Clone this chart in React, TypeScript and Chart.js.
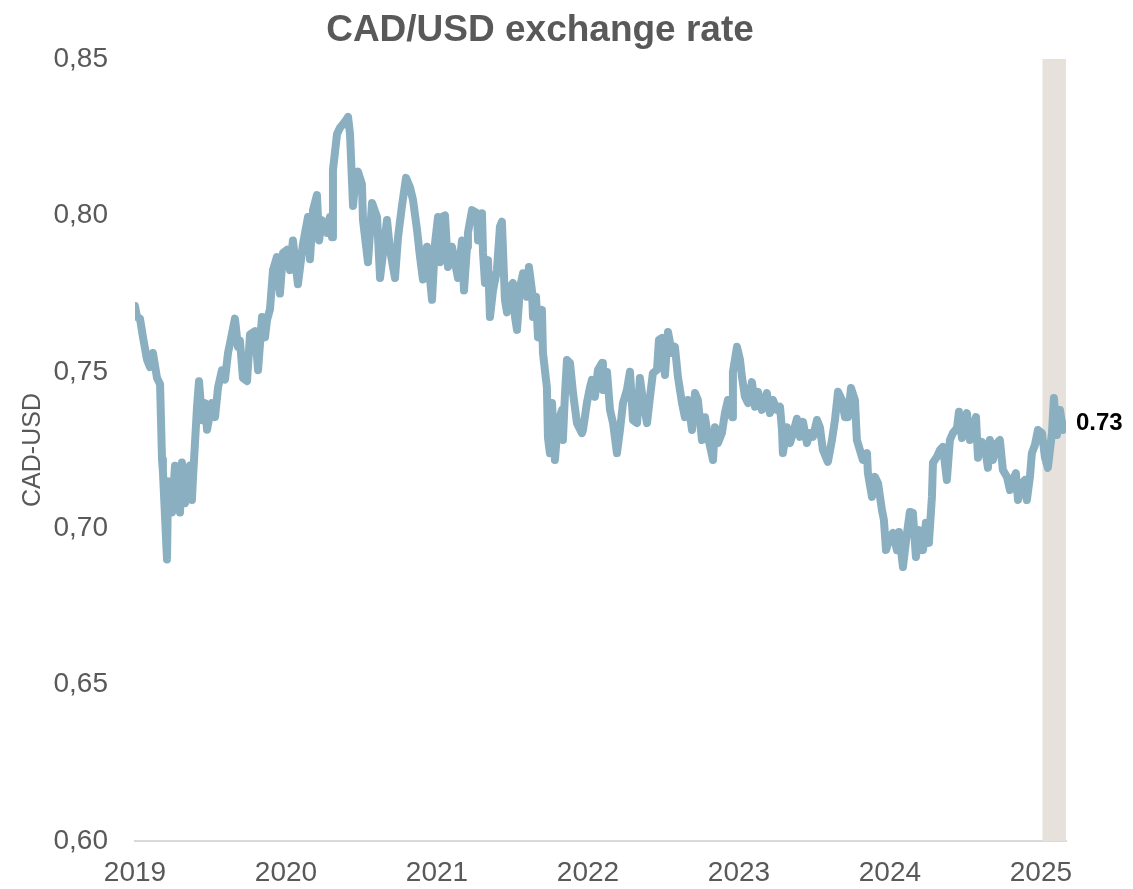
import React, { useEffect, useRef } from "react";
import { Chart, registerables } from "chart.js";

Chart.register(...registerables);

const chartTitle = "CAD/USD exchange rate";
const yAxisTitle = "CAD-USD";
const endLabel = "0.73";
const yearTicks = [2019, 2020, 2021, 2022, 2023, 2024, 2025];
const yMin = 0.6;
const yMax = 0.85;
const yStep = 0.05;
const shadedRange = [2025.01, 2025.166];

// fractional year of each observation
const dates = [
  2019.000, 2019.013, 2019.033, 2019.053, 2019.079, 2019.099, 2019.119, 2019.146, 2019.166, 2019.179,
  2019.185, 2019.212, 2019.219, 2019.245, 2019.265, 2019.298, 2019.311, 2019.331, 2019.364, 2019.377,
  2019.384, 2019.397, 2019.411, 2019.424, 2019.444, 2019.464, 2019.477, 2019.510, 2019.530, 2019.550,
  2019.576, 2019.596, 2019.616, 2019.629, 2019.662, 2019.682, 2019.695, 2019.715, 2019.742, 2019.762,
  2019.795, 2019.815, 2019.841, 2019.861, 2019.874, 2019.894, 2019.914, 2019.940, 2019.960, 2019.980,
  2020.007, 2020.026, 2020.046, 2020.079, 2020.113, 2020.146, 2020.159, 2020.179, 2020.205, 2020.219,
  2020.238, 2020.272, 2020.291, 2020.305, 2020.311, 2020.338, 2020.358, 2020.391, 2020.411, 2020.424,
  2020.444, 2020.457, 2020.477, 2020.503, 2020.510, 2020.543, 2020.570, 2020.603, 2020.623, 2020.669,
  2020.689, 2020.722, 2020.742, 2020.768, 2020.795, 2020.821, 2020.841, 2020.868, 2020.887, 2020.907,
  2020.934, 2020.967, 2020.987, 2021.007, 2021.020, 2021.033, 2021.053, 2021.073, 2021.099, 2021.119,
  2021.139, 2021.166, 2021.179, 2021.199, 2021.205, 2021.232, 2021.265, 2021.272, 2021.298, 2021.305,
  2021.318, 2021.338, 2021.351, 2021.371, 2021.397, 2021.417, 2021.430, 2021.450, 2021.464, 2021.483,
  2021.503, 2021.517, 2021.530, 2021.550, 2021.570, 2021.596, 2021.609, 2021.629, 2021.636, 2021.656,
  2021.669, 2021.695, 2021.702, 2021.728, 2021.735, 2021.748, 2021.762, 2021.781, 2021.801, 2021.828,
  2021.834, 2021.848, 2021.861, 2021.881, 2021.901, 2021.927, 2021.960, 2021.967, 2021.993, 2022.013,
  2022.026, 2022.046, 2022.066, 2022.093, 2022.099, 2022.126, 2022.146, 2022.166, 2022.192, 2022.212,
  2022.232, 2022.258, 2022.278, 2022.298, 2022.325, 2022.344, 2022.364, 2022.391, 2022.411, 2022.430,
  2022.457, 2022.470, 2022.490, 2022.510, 2022.530, 2022.556, 2022.576, 2022.596, 2022.623, 2022.642,
  2022.662, 2022.689, 2022.709, 2022.728, 2022.755, 2022.775, 2022.795, 2022.828, 2022.841, 2022.861,
  2022.887, 2022.907, 2022.927, 2022.954, 2022.960, 2022.987, 2023.007, 2023.020, 2023.040, 2023.060,
  2023.086, 2023.106, 2023.126, 2023.152, 2023.185, 2023.205, 2023.225, 2023.252, 2023.272, 2023.285,
  2023.291, 2023.318, 2023.338, 2023.358, 2023.384, 2023.404, 2023.424, 2023.450, 2023.470, 2023.490,
  2023.517, 2023.536, 2023.556, 2023.589, 2023.616, 2023.636, 2023.656, 2023.682, 2023.702, 2023.722,
  2023.742, 2023.768, 2023.781, 2023.801, 2023.821, 2023.848, 2023.854, 2023.881, 2023.901, 2023.921,
  2023.947, 2023.960, 2023.974, 2024.000, 2024.020, 2024.046, 2024.060, 2024.086, 2024.113, 2024.132,
  2024.152, 2024.172, 2024.192, 2024.219, 2024.238, 2024.258, 2024.278, 2024.285, 2024.311, 2024.331,
  2024.351, 2024.377, 2024.397, 2024.417, 2024.444, 2024.457, 2024.477, 2024.497, 2024.510, 2024.530,
  2024.550, 2024.570, 2024.583, 2024.609, 2024.629, 2024.649, 2024.662, 2024.682, 2024.709, 2024.728,
  2024.748, 2024.775, 2024.795, 2024.815, 2024.834, 2024.848, 2024.874, 2024.894, 2024.907, 2024.927,
  2024.940, 2024.960, 2024.980, 2025.007, 2025.026, 2025.046, 2025.073, 2025.086, 2025.106, 2025.126,
  2025.146, 2025.166,
];

// CAD in USD
const rates = [
  0.7710, 0.7675, 0.7670, 0.7610, 0.7540, 0.7515, 0.7560, 0.7480, 0.7460, 0.7220,
  0.7180, 0.6900, 0.7150, 0.7050, 0.7200, 0.7050, 0.7210, 0.7080, 0.7200, 0.7090,
  0.7160, 0.7270, 0.7390, 0.7470, 0.7345, 0.7400, 0.7315, 0.7400, 0.7355, 0.7450,
  0.7505, 0.7475, 0.7560, 0.7590, 0.7670, 0.7580, 0.7600, 0.7480, 0.7470, 0.7620,
  0.7630, 0.7505, 0.7675, 0.7610, 0.7665, 0.7700, 0.7825, 0.7867, 0.7750, 0.7880,
  0.7890, 0.7825, 0.7920, 0.7780, 0.7910, 0.7995, 0.7860, 0.8017, 0.8065, 0.7920,
  0.7985, 0.7944, 0.7995, 0.7930, 0.8145, 0.8260, 0.8280, 0.8300, 0.8315, 0.8260,
  0.8030, 0.8100, 0.8140, 0.8100, 0.7985, 0.7850, 0.8040, 0.7995, 0.7800, 0.7985,
  0.7890, 0.7800, 0.7930, 0.8030, 0.8120, 0.8090, 0.8050, 0.7953, 0.7870, 0.7795,
  0.7900, 0.7730, 0.7910, 0.7995, 0.7850, 0.7995, 0.8000, 0.7835, 0.7900, 0.7850,
  0.7800, 0.7920, 0.7760, 0.7900, 0.7944, 0.8017, 0.8007, 0.7920, 0.8007, 0.7880,
  0.7784, 0.7857, 0.7675, 0.7760, 0.7825, 0.7964, 0.7980, 0.7730, 0.7690, 0.7770,
  0.7784, 0.7675, 0.7634, 0.7770, 0.7815, 0.7740, 0.7835, 0.7760, 0.7675, 0.7740,
  0.7610, 0.7698, 0.7560, 0.7450, 0.7290, 0.7240, 0.7400, 0.7218, 0.7336, 0.7378,
  0.7282, 0.7432, 0.7538, 0.7528, 0.7432, 0.7336, 0.7304, 0.7314, 0.7400, 0.7450,
  0.7474, 0.7420, 0.7506, 0.7528, 0.7442, 0.7500, 0.7378, 0.7336, 0.7240, 0.7314,
  0.7400, 0.7442, 0.7500, 0.7346, 0.7336, 0.7480, 0.7410, 0.7336, 0.7420, 0.7496,
  0.7506, 0.7602, 0.7608, 0.7490, 0.7627, 0.7560, 0.7580, 0.7483, 0.7400, 0.7355,
  0.7410, 0.7314, 0.7432, 0.7410, 0.7282, 0.7355, 0.7292, 0.7218, 0.7323, 0.7272,
  0.7304, 0.7368, 0.7410, 0.7355, 0.7500, 0.7580, 0.7538, 0.7483, 0.7420, 0.7400,
  0.7467, 0.7388, 0.7436, 0.7378, 0.7432, 0.7368, 0.7410, 0.7378, 0.7388, 0.7314,
  0.7240, 0.7323, 0.7272, 0.7304, 0.7350, 0.7292, 0.7340, 0.7272, 0.7304, 0.7292,
  0.7346, 0.7323, 0.7250, 0.7212, 0.7282, 0.7346, 0.7436, 0.7410, 0.7355, 0.7355,
  0.7448, 0.7410, 0.7282, 0.7250, 0.7218, 0.7240, 0.7176, 0.7100, 0.7164, 0.7144,
  0.7058, 0.7026, 0.6930, 0.6972, 0.6985, 0.6930, 0.6988, 0.6876, 0.6985, 0.7052,
  0.7049, 0.6908, 0.6994, 0.6930, 0.7017, 0.6953, 0.7100, 0.7209, 0.7228, 0.7250,
  0.7260, 0.7154, 0.7282, 0.7304, 0.7320, 0.7372, 0.7288, 0.7336, 0.7368, 0.7282,
  0.7314, 0.7355, 0.7225, 0.7276, 0.7260, 0.7193, 0.7282, 0.7218, 0.7272, 0.7282,
  0.7186, 0.7164, 0.7122, 0.7154, 0.7176, 0.7090, 0.7144, 0.7154, 0.7090, 0.7164,
  0.7240, 0.7266, 0.7314, 0.7304, 0.7228, 0.7193, 0.7304, 0.7416, 0.7298, 0.7378,
  0.7314, 0.7330,
];

const FONT = '"Liberation Sans", Arial, Helvetica, sans-serif';
const TEXT_GREY = "#595959";
const LINE_COLOR = "#8aafc0";
const BAND_COLOR = "#e6e1db";

const decorPlugin = {
  id: "decor",
  beforeDatasetsDraw(chart: any) {
    const { ctx, chartArea, scales } = chart;
    const x0 = scales.x.getPixelForValue(shadedRange[0]);
    const x1 = scales.x.getPixelForValue(shadedRange[1]);
    ctx.save();
    ctx.fillStyle = BAND_COLOR;
    ctx.fillRect(x0, chartArea.top, x1 - x0, chartArea.bottom - chartArea.top);
    ctx.restore();
  },
  afterDatasetsDraw(chart: any) {
    const { ctx, chartArea, scales } = chart;
    ctx.save();
    ctx.fillStyle = TEXT_GREY;
    ctx.font = `bold 37px ${FONT}`;
    ctx.textAlign = "center";
    ctx.textBaseline = "middle";
    ctx.fillText(chartTitle, 540, 31);
    const lastVal = rates[rates.length - 1];
    const yPix = scales.y.getPixelForValue(lastVal);
    ctx.fillStyle = "#000000";
    ctx.font = `bold 24px ${FONT}`;
    ctx.textAlign = "left";
    ctx.fillText(endLabel, chartArea.right + 10, yPix - 2);
    ctx.restore();
  },
};

export default function App() {
  const canvasRef = useRef<HTMLCanvasElement | null>(null);

  useEffect(() => {
    document.body.style.margin = "0";
    const canvas = canvasRef.current;
    if (!canvas) return;
    const points = dates.map((d, i) => ({ x: d, y: rates[i] }));
    const chart = new Chart(canvas, {
      type: "line",
      data: {
        datasets: [
          {
            data: points,
            borderColor: LINE_COLOR,
            backgroundColor: LINE_COLOR,
            borderWidth: 8,
            pointRadius: 0,
            tension: 0,
            borderJoinStyle: "round",
            borderCapStyle: "round",
            fill: false,
          },
        ],
      },
      options: {
        responsive: false,
        animation: false,
        layout: { padding: { top: 59, right: 67, bottom: 0, left: 0 } },
        plugins: {
          legend: { display: false },
          tooltip: { enabled: false },
          title: { display: false },
        },
        scales: {
          x: {
            type: "linear",
            min: yearTicks[0],
            max: shadedRange[1],
            grid: { display: false, drawTicks: false },
            border: { display: true, color: "#d9d9d9", width: 2 },
            afterBuildTicks(scale: any) {
              scale.ticks = yearTicks.map((v) => ({ value: v }));
            },
            afterFit(scale: any) {
              scale.height = 48;
            },
            ticks: {
              color: TEXT_GREY,
              font: { family: FONT, size: 28 },
              padding: 15,
              maxRotation: 0,
              autoSkip: false,
              callback: (v: any) => String(v),
            },
          },
          y: {
            type: "linear",
            min: yMin,
            max: yMax,
            grid: { display: false, drawTicks: false },
            border: { display: false },
            afterFit(scale: any) {
              scale.width = 135;
            },
            ticks: {
              stepSize: yStep,
              color: TEXT_GREY,
              font: { family: FONT, size: 28 },
              padding: 27,
              callback: (v: any) => Number(v).toFixed(2).replace(".", ","),
            },
            title: {
              display: true,
              text: yAxisTitle,
              color: TEXT_GREY,
              font: { family: FONT, size: 25 },
              padding: { top: 18, bottom: 0 },
            },
          },
        },
      },
      plugins: [decorPlugin],
    });
    return () => chart.destroy();
  }, []);

  return (
    <div style={{ width: 1133, height: 889, background: "#ffffff" }}>
      <canvas ref={canvasRef} width={1133} height={889} style={{ display: "block" }} />
    </div>
  );
}
